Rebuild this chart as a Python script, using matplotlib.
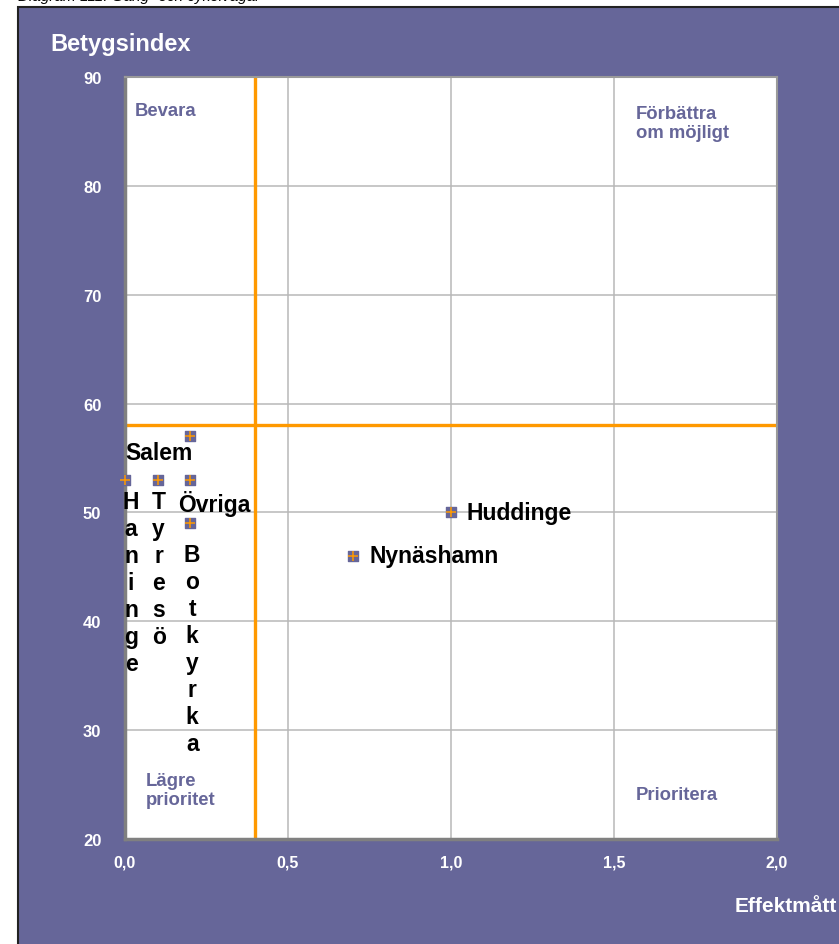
import matplotlib
matplotlib.use("Agg")
import matplotlib.pyplot as plt
from matplotlib.patches import Rectangle

plt.rcParams['font.family'] = ['Liberation Sans', 'DejaVu Sans']

# Data
names = ["Salem", "Haninge", "Tyresö", "Övriga", "Botkyrka", "Huddinge", "Nynäshamn"]
effekt = [0.2, 0.0, 0.1, 0.2, 0.2, 1.0, 0.7]
betyg = [57, 53, 53, 53, 49, 50, 46]
x_ticks = [0.0, 0.5, 1.0, 1.5, 2.0]
x_ticklabels = ["0,0", "0,5", "1,0", "1,5", "2,0"]
y_ticks = [20, 30, 40, 50, 60, 70, 80, 90]
x_split = 0.4
y_split = 58
quadrants = ["Bevara", "Förbättra\nom möjligt", "Lägre\nprioritet", "Prioritera"]

PURPLE = "#666699"
ORANGE = "#FF9900"

W, H = 839, 945
fig = plt.figure(figsize=(W / 100, H / 100), dpi=100)
fig.patch.set_facecolor("white")

# outer purple chart area
bg = Rectangle((18 / W, -0.01), 1, 1.01 - 8 / H, transform=fig.transFigure,
               facecolor=PURPLE, edgecolor="#222222", linewidth=1.5, zorder=-5)
fig.add_artist(bg)
fig.text(18 / W, 1 - 1.5 / H, "Diagram 111: Gång- och cykelvägar", fontsize=11,
         style="italic", va="baseline", ha="left", color="black")

ax = fig.add_axes([125 / W, 1 - 840 / H, (777 - 125) / W, (840 - 78) / H])
ax.set_zorder(2)
ax.set_facecolor("white")
ax.set_xlim(0, 2)
ax.set_ylim(20, 90)
ax.set_xticks(x_ticks)
ax.set_xticklabels(x_ticklabels)
ax.set_yticks(y_ticks)
ax.tick_params(length=0, colors="white")
for lab in ax.get_yticklabels():
    lab.set_fontweight("bold"); lab.set_fontsize(12)
for lab in ax.get_xticklabels():
    lab.set_fontweight("bold"); lab.set_fontsize(11.5)
ax.tick_params(axis="y", pad=17)
ax.tick_params(axis="x", pad=11)
ax.grid(True, color="#B8B8B8", linewidth=1.1)
ax.set_axisbelow(True)
for s in ax.spines.values():
    s.set_color("#9A9A9A"); s.set_linewidth(1.5)
ax.spines["left"].set_color("#808080"); ax.spines["left"].set_linewidth(2.5)
ax.spines["bottom"].set_color("#808080"); ax.spines["bottom"].set_linewidth(2.5)

ax.axvline(x_split, color=ORANGE, linewidth=2.4, zorder=2)
ax.axhline(y_split, color=ORANGE, linewidth=2.4, zorder=2)

ax.scatter(effekt, betyg, marker="s", s=48, color=PURPLE, zorder=4, clip_on=False)
ax.scatter(effekt, betyg, marker="+", s=60, color=ORANGE, linewidths=1.1, zorder=5, clip_on=False)

lab_kw = dict(fontsize=16.5, fontweight="bold", color="black", textcoords="offset pixels",
              zorder=6, annotation_clip=False)
positions = {
    "Salem": ((-31, -16), "center", "center", False),
    "Haninge": ((6, -10), "center", "top", True),
    "Tyresö": ((1, -10), "center", "top", True),
    "Övriga": ((24, -23), "center", "center", False),
    "Botkyrka": ((2, -20), "center", "top", True),
    "Huddinge": ((16, 0), "left", "center", False),
    "Nynäshamn": ((16, 0), "left", "center", False),
}
for n, xv, yv in zip(names, effekt, betyg):
    off, ha, va, vert = positions[n]
    txt = "\n".join(list(n)) if vert else n
    ax.annotate(txt, (xv, yv), xytext=off, ha=ha, va=va, linespacing=1.22, **lab_kw)

q_kw = dict(fontsize=13.3, fontweight="bold", color=PURPLE, transform=ax.transAxes,
            linespacing=1.22)
ax.text(10 / 652, 1 - 34 / 762, quadrants[0], ha="left", va="center", **q_kw)
ax.text(511 / 652, 1 - 46 / 762, quadrants[1], ha="left", va="center", **q_kw)
ax.text(21 / 652, 1 - 713 / 762, quadrants[2], ha="left", va="center", **q_kw)
ax.text(511 / 652, 1 - 718 / 762, quadrants[3], ha="left", va="center", **q_kw)

fig.text(50 / W, 1 - 44 / H, "Betygsindex", fontsize=17, fontweight="bold", color="white",
         ha="left", va="center")
fig.text(735 / W, 1 - 907 / H, "Effektmått", fontsize=15, fontweight="bold", color="white",
         ha="left", va="center")

fig.savefig("out.png", dpi=100)
